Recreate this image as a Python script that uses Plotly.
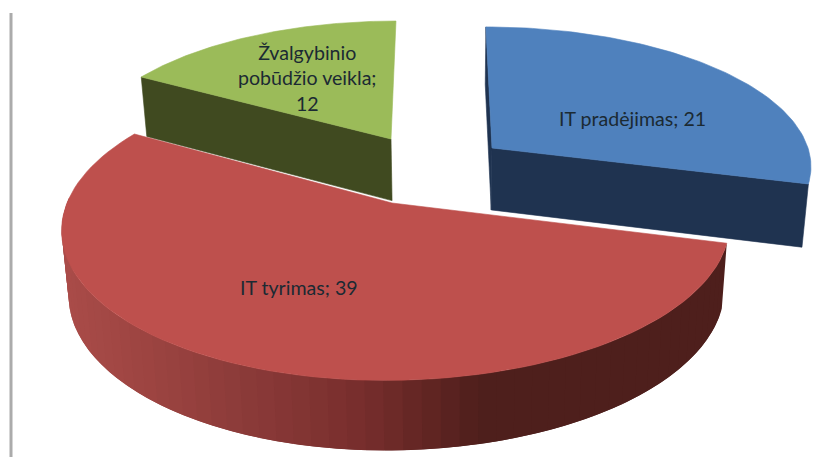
import math
import numpy as np
import plotly.graph_objects as go

categories = ["IT pradėjimas", "IT tyrimas", "Žvalgybinio pobūdžio veikla"]
values = [21, 39, 12]
top_colors = ["#4F81BD", "#BE504D", "#9BBB59"]
side_colors = ["#1F3350", "#4E1F1C", "#404A20"]

W, H = 834, 457
total = sum(values)
angles = np.cumsum([0] + values) / total * 2 * math.pi

# perspective placement of each slice on the page: apex x/y, radii, perspective, lean
views = {
    0: dict(x0=492, y0=148, rxl=316, rxr=316, ry=135, k=0.115, a=-6.8),
    1: dict(x0=392, y0=203, rxl=325, rxr=334, ry=149, k=0.16, a=6.6),
    2: dict(x0=391, y0=139, rxl=307, rxr=307, ry=130.6, k=0.107, a=5.5),
}


def top_pt(v, t):
    X, Y = math.sin(t), math.cos(t)
    w = 1 + v["k"] * Y
    rx = v["rxr"] if X >= 0 else v["rxl"]
    return v["x0"] + (rx * X + v["a"] * Y) / w, v["y0"] - v["ry"] * Y / w


def drop(p):
    x, y = p
    return x + (450 - x) * 0.018, y + 62 + 0.035 * (y - 150)


SHADE = [(60, (170, 76, 73)), (150, (156, 68, 65)), (250, (138, 58, 56)),
         (350, (122, 47, 46)), (420, (100, 38, 36)), (480, (78, 31, 28)), (740, (78, 31, 28))]


def shade(x):
    xs = [s[0] for s in SHADE]
    c = [np.interp(x, xs, [s[1][i] for s in SHADE]) for i in range(3)]
    return "rgb(%d,%d,%d)" % tuple(int(round(v)) for v in c)


fig = go.Figure()


def poly(points, color, lw=0.6):
    xs = [p[0] for p in points] + [points[0][0]]
    ys = [p[1] for p in points] + [points[0][1]]
    fig.add_trace(go.Scatter(x=xs, y=ys, mode="lines", fill="toself", fillcolor=color,
                             line=dict(color=color, width=lw), hoverinfo="skip", showlegend=False))


def top_face(i):
    v = views[i]
    ts = np.linspace(angles[i], angles[i + 1], 90)
    poly([(v["x0"], v["y0"])] + [top_pt(v, t) for t in ts], top_colors[i])


# frame line at the left
fig.add_trace(go.Scatter(x=[11, 11], y=[13, H], mode="lines", line=dict(color="#ABABAB", width=3),
                         hoverinfo="skip", showlegend=False))

# green slice
v = views[2]
a_pt = (v["x0"], v["y0"])
c_pt = top_pt(v, angles[2])
poly([c_pt, a_pt, drop(a_pt), drop(c_pt)], side_colors[2])
top_face(2)

# blue slice
v = views[0]
a_pt = (v["x0"], v["y0"])
s_pt = top_pt(v, angles[0])
e_pt = top_pt(v, angles[1])
poly([s_pt, a_pt, drop(a_pt), drop(s_pt)], side_colors[0])
poly([a_pt, e_pt, drop(e_pt), drop(a_pt)], side_colors[0])
top_face(0)

# red slice: rim in overlapping strips so the shading runs along it without seams
v = views[1]
rim = np.linspace(angles[1], math.radians(272), 61)
for j in range(len(rim) - 1):
    t0 = rim[j]
    t1 = rim[min(j + 2, len(rim) - 1)]
    mid = top_pt(v, (rim[j] + rim[j + 1]) / 2)
    ts = np.linspace(t0, t1, 6)
    upper = [top_pt(v, t) for t in ts]
    lower = [drop(p) for p in upper][::-1]
    poly(upper + lower, shade(mid[0]), lw=0)
top_face(1)

# labels
label_text = [f"{categories[0]}; {values[0]}", f"{categories[1]}; {values[1]}",
              f"Žvalgybinio<br>pobūdžio veikla;<br>{values[2]}"]
label_x = [632, 299, 307]
label_y = [118, 287, 78]
for s, x, y in zip(label_text, label_x, label_y):
    fig.add_annotation(x=x, y=y, text=s, showarrow=False, xanchor="center", yanchor="middle",
                       font=dict(family="Lato", size=19.6, color="#1B2A33"), align="center")

fig.update_layout(
    width=W, height=H, margin=dict(l=0, r=0, t=0, b=0),
    paper_bgcolor="white", plot_bgcolor="white", showlegend=False,
    xaxis=dict(range=[0, W], visible=False, fixedrange=True),
    yaxis=dict(range=[H, 0], visible=False, fixedrange=True),
)
fig.write_html("out.html", config={"displayModeBar": False},
               post_script="document.body.style.margin='0';")
